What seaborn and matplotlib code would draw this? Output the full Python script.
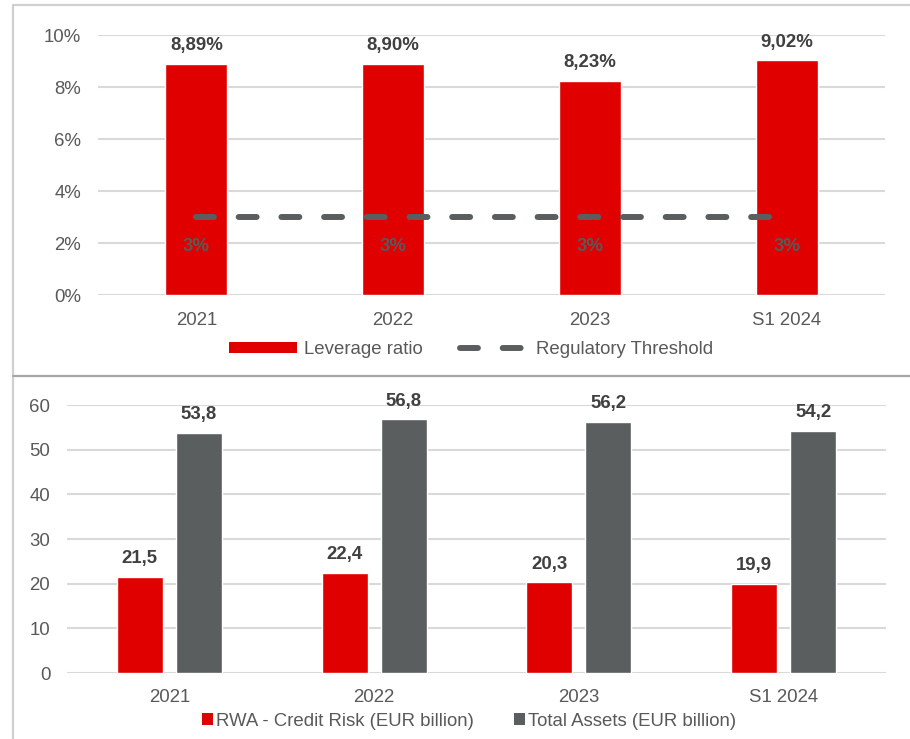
import matplotlib
matplotlib.use("Agg")
import matplotlib.pyplot as plt
from matplotlib.lines import Line2D
from matplotlib.patches import Patch
import seaborn as sns
import pandas as pd

# ---- data ----
periods = ["2021", "2022", "2023", "S1 2024"]
leverage_ratio = [8.89, 8.90, 8.23, 9.02]          # %
regulatory_threshold = [3, 3, 3, 3]                 # %
rwa_credit_risk = [21.5, 22.4, 20.3, 19.9]          # EUR billion
total_assets = [53.8, 56.8, 56.2, 54.2]             # EUR billion

RED = "#E00000"
GREY = "#5A5E5E"
TXT = "#595959"
LBL = "#404040"
GRID = "#D9D9D9"

sns.set_theme(style="white")
plt.rcParams["font.family"] = ["Liberation Sans", "DejaVu Sans"]
FS = 13.4
DASH = (0, (3.0, 4.15))


def fmt(v, dec=1, pct=False):
    s = f"{v:.{dec}f}".replace(".", ",")
    return s + ("%" if pct else "")


fig = plt.figure(figsize=(9.10, 7.39), dpi=100)
W, H = 910, 739


def px_axes(x0, y0, x1, y1):
    return fig.add_axes([x0 / W, 1 - y1 / H, (x1 - x0) / W, (y1 - y0) / H])


def style_axes(ax, xpad):
    sns.despine(ax=ax, left=True, top=True, right=True, bottom=True)
    ax.grid(axis="y", color=GRID, linewidth=1.5)
    ax.grid(axis="x", visible=False)
    ax.set_axisbelow(True)
    ax.tick_params(axis="both", length=0, labelsize=FS, labelcolor=TXT)
    ax.tick_params(axis="y", pad=12)
    ax.tick_params(axis="x", pad=xpad)
    ax.set_xlabel("")
    ax.set_ylabel("")
    ax.set_xlim(-0.5, 3.5)


# ---- top panel: leverage ratio ----
ax1 = px_axes(98, 35, 885, 295)
sns.barplot(x=periods, y=leverage_ratio, color=RED, saturation=1,
            width=0.315, ax=ax1)
sns.pointplot(x=periods, y=regulatory_threshold, color=GREY, markers="",
              errorbar=None, ax=ax1)
thr_line = ax1.lines[-1]
thr_line.set_linewidth(4.3)
thr_line.set_linestyle(DASH)
thr_line.set_dash_capstyle("round")
style_axes(ax1, 12.5)
ax1.set_ylim(0, 10)
ax1.set_yticks(range(0, 11, 2))
ax1.set_yticklabels([f"{t}%" for t in range(0, 11, 2)])

ax1.bar_label(ax1.containers[0],
              labels=[fmt(v, 2, pct=True) for v in leverage_ratio],
              padding=7, fontsize=FS, fontweight="bold", color=LBL)
for i, v in enumerate(regulatory_threshold):
    ax1.annotate(f"{v}%", (i, v), xytext=(0, -21), textcoords="offset points",
                 ha="center", va="center", fontsize=FS, fontweight="bold",
                 color=TXT)

leg1_handles = [
    Patch(facecolor=RED, edgecolor="none"),
    Line2D([0], [0], color=GREY, linewidth=4.3, linestyle=DASH,
           dash_capstyle="round"),
]
fig.legend(leg1_handles, ["Leverage ratio", "Regulatory Threshold"],
           loc="center", bbox_to_anchor=(471 / W, 1 - 350 / H), ncol=2,
           frameon=False, fontsize=FS, labelcolor=TXT, handlelength=3.65,
           handleheight=0.52, handletextpad=0.4, columnspacing=2.0)

# ---- bottom panel: RWA and total assets ----
df = pd.DataFrame({
    "period": periods * 2,
    "value": rwa_credit_risk + total_assets,
    "series": ["RWA - Credit Risk (EUR billion)"] * 4
    + ["Total Assets (EUR billion)"] * 4,
})
ax2 = px_axes(67, 405, 886, 673)
sns.barplot(data=df, x="period", y="value", hue="series",
            palette=[RED, GREY], saturation=1, width=0.577, gap=0.22,
            legend=False, ax=ax2)
style_axes(ax2, 11.5)
ax2.set_ylim(0, 60)
ax2.set_yticks(range(0, 61, 10))
for cont, vals in zip(ax2.containers, [rwa_credit_risk, total_assets]):
    ax2.bar_label(cont, labels=[fmt(v) for v in vals], padding=7,
                  fontsize=FS, fontweight="bold", color=LBL)

leg2_handles = [Patch(facecolor=RED, edgecolor="none"),
                Patch(facecolor=GREY, edgecolor="none")]
fig.legend(leg2_handles, ["RWA - Credit Risk (EUR billion)",
                          "Total Assets (EUR billion)"],
           loc="center", bbox_to_anchor=(469 / W, 1 - 721 / H), ncol=2,
           frameon=False, fontsize=FS, labelcolor=TXT, handlelength=0.56,
           handleheight=0.56, handletextpad=0.15, columnspacing=2.2)

# ---- panel frames ----
def fig_line(xs, ys, color, lw):
    fig.add_artist(Line2D([x / W for x in xs], [1 - y / H for y in ys],
                          color=color, linewidth=lw, transform=fig.transFigure))

fig_line([12.5, 12.5], [5, 739], "#D0D0D0", 1.6)
fig_line([12.5, 910], [5, 5], "#D0D0D0", 1.6)
fig_line([12.5, 910], [375.5, 375.5], "#A6A6A6", 1.6)

fig.savefig("out.png", dpi=100)
